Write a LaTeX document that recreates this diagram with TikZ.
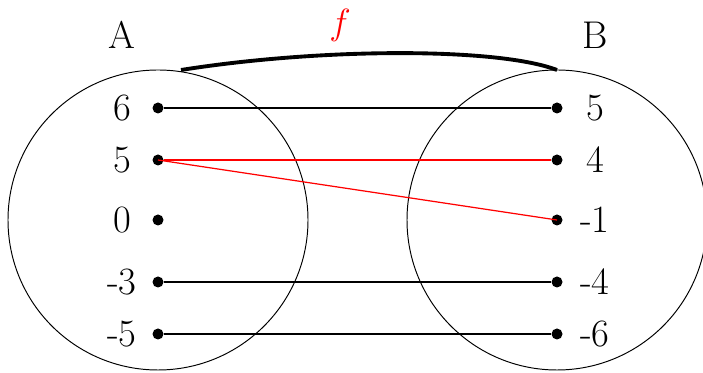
\documentclass[tikz,border=0pt]{standalone}
\begin{document}
\begin{tikzpicture}[
    font=\fontsize{22}{26}\selectfont,
    dot/.style={circle, fill=black, inner sep=0pt, minimum size=0.22cm},
    setcirc/.style={draw=black, line width=0.55pt},
    link/.style={-, line width=1.2pt, draw=black},
    redlink/.style={-, line width=1.2pt, draw=red},
    thinred/.style={-, line width=0.7pt, draw=red}
]
  \useasboundingbox (-3.16,-3.06) rectangle (10.9,4.4);

  % the two sets
  \draw[setcirc] (0,0) circle (3);
  \draw[setcirc] (7.98,0) circle (3);

  \node (setA) at (-0.72,3.7) {A};
  \node (setB) at (8.74,3.7) {B};
  \node (fname) at (3.64,3.9) {\textcolor{red}{$f$}};

  % elements of A
  \node[dot] (a6) at (0,2.24) {};
  \node[dot] (a5) at (0,1.2) {};
  \node[dot] (a0) at (0,0) {};
  \node[dot] (am3) at (0,-1.24) {};
  \node[dot] (am5) at (0,-2.28) {};
  \node (la6) at (-0.72,2.24) {6};
  \node (la5) at (-0.72,1.2) {5};
  \node (la0) at (-0.72,0) {0};
  \node (lam3) at (-0.72,-1.24) {-3};
  \node (lam5) at (-0.72,-2.28) {-5};

  % elements of B
  \node[dot] (b5) at (7.98,2.24) {};
  \node[dot] (b4) at (7.98,1.2) {};
  \node[dot] (bm1) at (7.98,0) {};
  \node[dot] (bm4) at (7.98,-1.24) {};
  \node[dot] (bm6) at (7.98,-2.28) {};
  \node (lb5) at (8.74,2.24) {5};
  \node (lb4) at (8.74,1.2) {4};
  \node (lbm1) at (8.74,0) {-1};
  \node (lbm4) at (8.74,-1.24) {-4};
  \node (lbm6) at (8.74,-2.28) {-6};

  \draw[link] (a6) -- (b5);
  \draw[redlink] (a5) -- (b4);
  \draw[thinred] (a5.center) -- (bm1.center);
  \draw[link] (am3) -- (bm4);
  \draw[link] (am5) -- (bm6);

  % the map arc
  \coordinate (arcL) at (0.46,3.0);
  \coordinate (arcR) at (7.98,3.0);
  \draw[line width=2.2pt] (arcL) .. controls (3.3,3.45) and (6.8,3.45) .. (arcR);
\end{tikzpicture}
\end{document}
